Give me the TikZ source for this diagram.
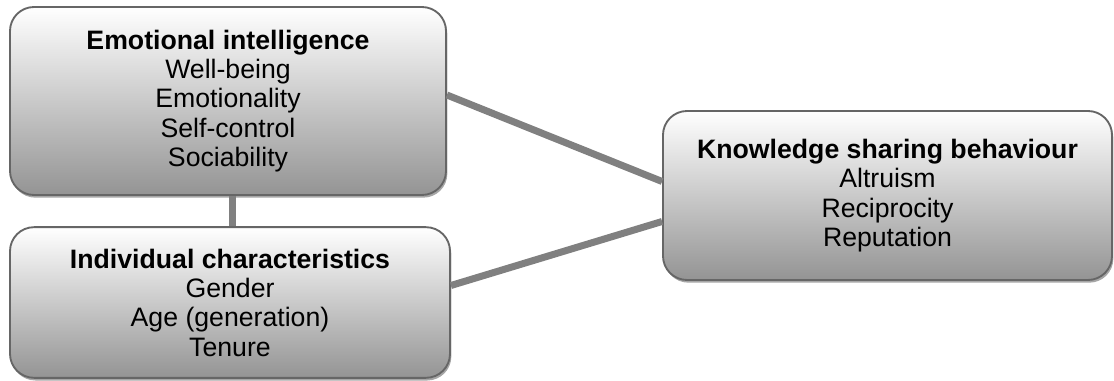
\documentclass[tikz,border=0pt]{standalone}
\usepackage{fontspec}
\setmainfont{Liberation Sans}
\usetikzlibrary{shadows}

\begin{document}
\begin{tikzpicture}[
    x=0.75pt, y=-0.75pt,
    box/.style={rectangle, draw=black!60, line width=1.4pt, rounded corners=18pt, top color=white, bottom color=black!42, align=center, font=\fontsize{20}{22}\selectfont, drop shadow={shadow xshift=1pt, shadow yshift=-2pt, fill=black!35, opacity=1}},
    link/.style={line width=5.25pt, draw=black!50}
]
\useasboundingbox (0,0) rectangle (1114,381);

\node[box, minimum width=327pt, minimum height=141pt] (emotion) at (228,101) {\textbf{Emotional intelligence}\\Well-being\\Emotionality\\Self-control\\Sociability};
\node[box, minimum width=330pt, minimum height=113pt] (indiv) at (230,302.5) {\textbf{Individual characteristics}\\Gender\\Age (generation)\\Tenure};
\node[box, minimum width=336.75pt, minimum height=126.75pt] (sharing) at (887.5,195.5) {\textbf{Knowledge sharing behaviour}\\Altruism\\Reciprocity\\Reputation};

\draw[link] ([xshift=3pt]emotion.south) -- ([xshift=1.5pt]indiv.north);
\draw[link] ([yshift=4.5pt]emotion.east) -- ([yshift=10.5pt]sharing.west);
\draw[link] ([yshift=12.75pt]indiv.east) -- ([yshift=-19.5pt]sharing.west);
\end{tikzpicture}
\end{document}
